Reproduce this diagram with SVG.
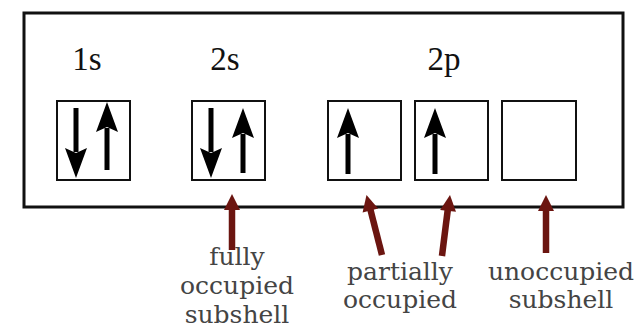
<svg xmlns="http://www.w3.org/2000/svg" width="640" height="328" viewBox="0 0 640 328">
<defs>
<style>
.frame{fill:#fff;stroke:#111;stroke-width:3}
.box{fill:#fff;stroke:#111;stroke-width:2}
.lbl{font-family:"Liberation Serif","Times New Roman",serif;font-size:33px;fill:#111;text-anchor:middle}
.cap{font-family:"DejaVu Serif",serif;font-size:25px;fill:#444;text-anchor:middle}
.shaft{stroke:#000;stroke-width:5}
.head{fill:#000}
.red{stroke:#6b1510;stroke-width:6.5;fill:none}
</style>
<polygon id="up" class="head" points="0,0 11,30 0,25 -11,30"/>
<polygon id="dn" class="head" points="0,0 11,-30 0,-25 -11,-30"/>
<polygon id="rh" fill="#6b1510" points="0,0 8,16 -8,16"/>
</defs>
<rect width="640" height="328" fill="#fff"/>
<rect id="frame" class="frame" x="24" y="13" width="599" height="194"/>
<g id="s1">
<text class="lbl" x="87" y="70">1s</text>
<rect class="box" x="57" y="101" width="73" height="79"/>
<line class="shaft" x1="76" y1="108" x2="76" y2="152"/><use href="#dn" x="76" y="178"/>
<line class="shaft" x1="107" y1="128" x2="107" y2="170"/><use href="#up" x="107" y="102"/>
</g>
<g id="s2">
<text class="lbl" x="225" y="70">2s</text>
<rect class="box" x="192" y="101" width="73" height="79"/>
<line class="shaft" x1="211" y1="108" x2="211" y2="152"/><use href="#dn" x="211" y="178"/>
<line class="shaft" x1="243" y1="134" x2="243" y2="173"/><use href="#up" x="243" y="108"/>
</g>
<g id="p2">
<text class="lbl" x="444" y="70">2p</text>
<rect class="box" x="328" y="101" width="73" height="79"/>
<line class="shaft" x1="348" y1="134" x2="348" y2="174"/><use href="#up" x="348" y="108"/>
<rect class="box" x="415" y="101" width="73" height="79"/>
<line class="shaft" x1="435" y1="134" x2="435" y2="174"/><use href="#up" x="435" y="108"/>
<rect class="box" x="502" y="101" width="74" height="79"/>
</g>
<g id="connectors">
<line class="red" x1="232" y1="250" x2="232" y2="208"/><use href="#rh" x="232" y="194"/>
<line class="red" x1="382" y1="255" x2="370" y2="208"/><use href="#rh" transform="translate(366.5,195) rotate(-14)"/>
<line class="red" x1="442" y1="256" x2="448" y2="208"/><use href="#rh" transform="translate(450,195) rotate(7)"/>
<line class="red" x1="546" y1="253" x2="546" y2="208"/><use href="#rh" x="546" y="195"/>
</g>
<g id="cap-full">
<text class="cap" x="237" y="265">fully</text>
<text class="cap" x="237" y="294">occupied</text>
<text class="cap" x="237" y="323">subshell</text>
</g>
<g id="cap-partial">
<text class="cap" x="400" y="280">partially</text>
<text class="cap" x="400" y="308">occupied</text>
</g>
<g id="cap-un">
<text class="cap" x="561" y="280">unoccupied</text>
<text class="cap" x="561" y="308">subshell</text>
</g>
</svg>
